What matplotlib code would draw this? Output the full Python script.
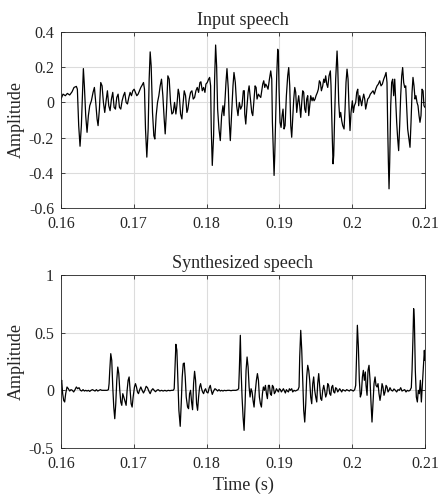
import numpy as np
import matplotlib
matplotlib.use("Agg")
import matplotlib.pyplot as plt

plt.rcParams['font.family'] = ['Liberation Serif', 'DejaVu Serif']
plt.rcParams['axes.unicode_minus'] = False

# ---------------- data (time offsets in ms from 0.16 s, amplitude) ----------------
input_ms = [0, 0.275, 0.596, 0.872, 1.193, 1.514, 1.789, 2.110, 2.248, 2.431, 2.615, 2.798, 2.936, 3.073,
            3.211, 3.394, 3.578, 3.761, 3.945, 4.174, 4.404, 4.587, 4.771, 4.954, 5.092, 5.275, 5.459, 5.642,
            5.826, 6.009, 6.193, 6.376, 6.560, 6.743, 6.927, 7.110, 7.294, 7.477, 7.661, 7.844, 8.028, 8.211,
            8.394, 8.578, 8.761, 8.945, 9.128, 9.312, 9.495, 9.679, 9.862, 10.046, 10.229, 10.413, 10.596,
            10.780, 10.963, 11.147, 11.330, 11.468, 11.606, 11.789, 11.972, 12.110, 12.248, 12.385, 12.569,
            12.752, 12.890, 13.073, 13.257, 13.440, 13.624, 13.807, 13.991, 14.174, 14.312, 14.495, 14.679,
            14.862, 15.046, 15.229, 15.413, 15.596, 15.780, 15.917, 16.101, 16.239, 16.422, 16.606, 16.743,
            16.927, 17.110, 17.294, 17.431, 17.615, 17.798, 17.982, 18.165, 18.349, 18.532, 18.716, 18.899,
            19.083, 19.220, 19.404, 19.587, 19.771, 19.908, 20.092, 20.275, 20.413, 20.550, 20.642, 20.780,
            20.963, 21.101, 21.239, 21.376, 21.514, 21.697, 21.881, 22.064, 22.248, 22.385, 22.523, 22.661,
            22.798, 22.982, 23.119, 23.257, 23.440, 23.624, 23.761, 23.945, 24.128, 24.312, 24.495, 24.679,
            24.862, 25.046, 25.183,
            25.24, 25.38, 25.52, 25.70, 25.84, 26.02, 26.20, 26.34, 26.48, 26.66, 26.80, 26.93, 27.12, 27.25,
            27.44, 27.57, 27.71, 27.85, 27.99, 28.12, 28.26, 28.44, 28.63, 28.81, 28.95, 29.04, 29.13, 29.27,
            29.36, 29.50, 29.63, 29.77, 29.86, 29.95, 30.09, 30.23, 30.37, 30.50, 30.64, 30.78, 30.96, 31.14,
            31.28, 31.42, 31.56, 31.69, 31.83, 31.97, 32.11, 32.24, 32.38, 32.52, 32.65, 32.79, 32.93, 33.07,
            33.20, 33.34, 33.48, 33.62, 33.75, 33.89, 34.03, 34.16, 34.30, 34.49, 34.62, 34.76, 34.90, 35.03,
            35.22, 35.35, 35.49, 35.63, 35.77, 35.95, 36.09, 36.22, 36.36, 36.50, 36.64, 36.82, 37.00, 37.09,
            37.18, 37.27, 37.37, 37.46, 37.59, 37.73, 37.92, 38.01, 38.15, 38.28, 38.42, 38.56, 38.70, 38.88,
            39.02, 39.15, 39.29, 39.43, 39.57, 39.70, 39.84, 40.02, 40.16, 40.30, 40.48, 40.62, 40.76, 40.89,
            41.03, 41.17, 41.30, 41.44, 41.58, 41.72, 41.85, 41.99, 42.13, 42.31, 42.49, 42.68, 42.86, 43.04,
            43.23, 43.41, 43.59, 43.78, 43.96, 44.14, 44.33, 44.51, 44.65, 44.78, 44.88, 44.97, 45.06, 45.15,
            45.29, 45.42, 45.56, 45.70, 45.84, 45.97, 46.11, 46.25, 46.38, 46.52, 46.66, 46.80, 46.93, 47.07,
            47.21, 47.35, 47.48, 47.62, 47.80, 47.94, 48.08, 48.22, 48.35, 48.49, 48.63, 48.76, 48.90, 49.04,
            49.18, 49.31, 49.45, 49.59, 49.73, 49.86, 50.00]
input_amp = [0.019, 0.047, 0.038, 0.051, 0.042, 0.060, 0.085, 0.091, 0.075, -0.132, -0.249, -0.132, 0.038, 0.192,
             0.094, -0.075, -0.170, -0.075, -0.019, 0.009, 0.057, 0.085, 0.000, -0.094, -0.132, -0.038, 0.113, 0.094,
             0.000, -0.057, 0.009, 0.066, -0.019, -0.047, 0.019, 0.057, -0.028, -0.038, 0.028, 0.047, -0.028, -0.038,
             0.009, 0.038, 0.057, 0.000, -0.009, 0.028, 0.057, 0.038, 0.066, 0.075, 0.057, 0.038, 0.047,
             0.066, 0.085, 0.098, 0.113, 0.075, -0.151, -0.311, -0.151, 0.132, 0.287, 0.208, -0.057,
             -0.189, -0.208, -0.075, 0.000, 0.038, 0.094, 0.132, 0.038, -0.094, -0.179, -0.038, 0.151,
             0.132, 0.000, -0.066, -0.057, 0.000, -0.066, -0.019, 0.075, 0.047, -0.066, -0.094, -0.019,
             0.066, 0.038, -0.057, -0.038, 0.019, 0.057, 0.066, 0.019, 0.028, 0.066, 0.085, 0.057,
             0.113, 0.117, 0.066, 0.085, 0.057, 0.104, 0.113, 0.132, 0.142, 0.094, -0.151, -0.358,
             -0.189, 0.132, 0.326, 0.208, -0.038, -0.151, -0.217, -0.075, -0.019, -0.075, 0.009, 0.113,
             0.192, 0.075, -0.113, -0.217, -0.057, 0.094, 0.170, 0.113, -0.019, -0.075, 0.000, -0.038,
             -0.019, 0.066, 0.066,
             -0.066, -0.123, -0.038, 0.057, 0.094, 0.019, -0.057, -0.075, 0.000, 0.094, 0.085, 0.019, 0.047, 0.038,
             0.028, 0.066, 0.104, 0.123, 0.085, 0.104, 0.094, 0.075, 0.132, 0.179, 0.132, -0.113, -0.226, -0.415,
             -0.302, -0.057, 0.151, 0.302, 0.283, 0.075, -0.113, -0.142, -0.075, -0.038, -0.151, -0.132, 0.038, 0.151,
             0.198, 0.094, -0.132, -0.198, -0.094, 0.019, 0.085, 0.057, -0.057, 0.000, 0.038, -0.019, -0.085, 0.000,
             0.066, 0.057, -0.038, -0.057, 0.019, 0.038, -0.075, -0.019, 0.038, 0.009, 0.028, 0.009, 0.019, 0.038,
             0.057, 0.075, 0.123, 0.113, 0.066, 0.094, 0.132, 0.113, 0.151, 0.104, 0.085, 0.151, 0.179, 0.094,
             -0.057, -0.208, -0.349, -0.302, -0.075, 0.132, 0.292, 0.208, 0.000, -0.085, -0.057, -0.104, -0.132, -0.151,
             -0.038, 0.113, 0.189, 0.132, -0.038, -0.160, -0.057, 0.009, -0.057, -0.019, 0.000, 0.057, 0.075, -0.019,
             0.038, 0.009, -0.019, 0.019, 0.047, 0.019, -0.038, -0.009, 0.019, 0.028, 0.047, 0.057, 0.066, 0.047,
             0.075, 0.094, 0.104, 0.123, 0.094, 0.104, 0.132, 0.151, 0.170, 0.113, -0.151, -0.340, -0.491, -0.340,
             -0.019, 0.113, 0.132, 0.038, 0.132, 0.019, -0.113, -0.208, -0.274, -0.132, 0.038, 0.151, 0.198, 0.113,
             0.085, 0.094, -0.019, -0.151, -0.208, -0.255, -0.113, 0.057, 0.142, 0.094, 0.019, 0.038, 0.000, -0.019,
             -0.075, -0.113, -0.075, 0.075, 0.066, -0.019, -0.028]

synth_ms = [0, 0.092, 0.229, 0.367, 0.505, 0.642, 0.826, 1.009, 1.193, 1.376, 1.560, 1.743, 1.927, 2.110, 2.294,
            2.477, 2.661, 2.844, 3.028, 3.211, 3.394, 3.578, 3.761, 3.945, 4.128, 4.312, 4.495, 4.679, 4.862,
            5.046, 5.229, 5.413, 5.596, 5.780, 5.963, 6.147, 6.330, 6.514, 6.606, 6.697, 6.835, 6.972, 7.110,
            7.248, 7.385, 7.523, 7.661, 7.798, 7.936, 8.073, 8.211, 8.349, 8.486, 8.624, 8.807, 8.945, 9.083,
            9.220, 9.358, 9.495, 9.633, 9.771, 9.908, 10.092, 10.229, 10.367, 10.505, 10.642, 10.780, 10.963,
            11.147, 11.330, 11.514, 11.697, 11.881, 12.064, 12.248, 12.431, 12.615, 12.798, 12.982, 13.165,
            13.349, 13.578, 13.807, 14.037, 14.266, 14.495, 14.725, 14.954, 15.183, 15.413, 15.550, 15.642,
            15.780, 15.917, 16.055, 16.193, 16.376, 16.514, 16.651, 16.789, 16.927, 17.064, 17.202, 17.385,
            17.523, 17.661, 17.798, 17.936, 18.073, 18.211, 18.349, 18.486, 18.624, 18.761, 18.899, 19.037,
            19.174, 19.312, 19.450, 19.587, 19.725, 19.862, 20.000, 20.183, 20.367, 20.505, 20.642, 20.780,
            20.963, 21.147, 21.330, 21.514, 21.697, 21.881, 22.064, 22.248, 22.431, 22.661, 22.890, 23.119,
            23.349, 23.578, 23.807, 24.037, 24.266, 24.404, 24.495, 24.633,
            24.74, 24.87, 25.01, 25.15, 25.29, 25.42, 25.56, 25.70, 25.84, 25.97, 26.11, 26.25, 26.38, 26.52,
            26.66, 26.84, 26.98, 27.12, 27.25, 27.39, 27.53, 27.67, 27.80, 27.94, 28.08, 28.22, 28.35, 28.49,
            28.63, 28.76, 28.90, 29.04, 29.18, 29.31, 29.45, 29.59, 29.73, 29.86, 30.00, 30.14, 30.27, 30.41,
            30.55, 30.69, 30.82, 30.96, 31.10, 31.24, 31.37, 31.51, 31.69, 31.83, 32.01, 32.20, 32.38, 32.56,
            32.70, 32.79, 32.93, 33.07, 33.20, 33.34, 33.48, 33.62, 33.75, 33.89, 34.03, 34.16, 34.30, 34.44,
            34.58, 34.71, 34.85, 34.99, 35.13, 35.26, 35.40, 35.54, 35.67, 35.81, 35.95, 36.09, 36.22, 36.36,
            36.50, 36.64, 36.77, 36.91, 37.05, 37.19, 37.32, 37.46, 37.60, 37.73, 37.87, 38.01, 38.15, 38.28,
            38.42, 38.56, 38.70, 38.88, 39.06, 39.24, 39.43, 39.61, 39.79, 39.98, 40.16, 40.34, 40.48, 40.57,
            40.71, 40.85, 40.98, 41.12, 41.26, 41.40, 41.53, 41.67, 41.81, 41.90, 42.04, 42.17, 42.31, 42.45,
            42.59, 42.72, 42.86, 43.00, 43.14, 43.27, 43.41, 43.55, 43.68, 43.82, 43.96, 44.10, 44.23, 44.37,
            44.51, 44.65, 44.78, 44.92, 45.06, 45.19, 45.38, 45.56, 45.74, 45.93, 46.11, 46.29, 46.48, 46.66,
            46.84, 47.02, 47.21, 47.39, 47.57, 47.76, 47.94, 48.12, 48.22, 48.35, 48.44, 48.54, 48.67, 48.81,
            48.95, 49.08, 49.22, 49.36, 49.50, 49.63, 49.77, 49.91, 50.00]
synth_amp = [0.058, 0.087, -0.029, -0.087, -0.101, -0.029, 0.029, 0.014, -0.006, 0.006, 0, -0.014, 0.006, 0.029, 0.014,
             0.023, 0, -0.006, 0.006, -0.006, 0, -0.006, 0, -0.009, 0, 0.006, 0, -0.006, 0.006,
             -0.006, 0, 0.006, 0, 0, 0, 0, 0, 0.006, 0.058, 0.173, 0.318, 0.260, 0.029,
             -0.145, -0.246, -0.116, 0.087, 0.202, 0.145, 0, -0.101, -0.130, -0.029, -0.058, -0.101, -0.130, 0,
             0.087, 0.116, 0, -0.116, -0.145, -0.058, 0.029, 0.058, 0.029, -0.014, -0.029, 0, 0.029,
             0, -0.023, 0, 0.035, 0.023, -0.006, -0.029, 0, 0.014, 0, -0.012, 0,
             0.006, -0.006, 0, -0.006, 0, -0.006, 0, -0.003, 0, 0, 0.014, 0.173,
             0.399, 0.347, 0.087, -0.173, -0.312, -0.116, 0.116, 0.231, 0.237, 0.116, -0.058, -0.145,
             -0.159, -0.029, 0, -0.101, -0.168, 0.058, 0.165, 0.087, -0.116, -0.173, -0.058, 0.029,
             0.058, 0.014, -0.014, -0.029, 0, 0.014, -0.014, -0.023, 0.023, 0.043, 0, -0.035,
             -0.006, 0.014, 0.006, -0.006, 0.006, -0.006, 0, -0.006, 0, -0.003, 0, 0,
             -0.003, 0, 0, 0, 0.006, 0.014, 0.173, 0.477,
             0.173, -0.058, -0.231, -0.347, -0.116, 0.173, 0.289, 0.202, 0.029, -0.058, 0.014, -0.014, -0.087, -0.145,
             -0.029, 0.087, 0.145, 0.087, -0.058, -0.116, -0.145, -0.029, 0.029, 0, 0.043, -0.029, -0.072, 0.043,
             0.043, -0.029, -0.043, 0.043, 0.029, -0.029, -0.014, 0.014, 0, -0.014, 0.014, 0.006, -0.014, 0,
             0.014, -0.006, -0.023, 0.006, -0.006, -0.014, 0.014, 0, 0.014, -0.014, 0, -0.006, 0, 0.006,
             0.029, 0.289, 0.520, 0.347, 0.087, -0.173, -0.275, -0.116, 0.116, 0.217, 0.173, 0.087, -0.058, -0.116,
             0.058, 0.116, 0, -0.058, -0.101, 0.058, 0.145, 0.029, -0.072, -0.087, 0, 0.043, 0, -0.058,
             -0.029, 0.058, 0.043, -0.029, -0.043, 0.029, 0.043, -0.014, -0.023, 0.023, 0.014, -0.014, 0, 0.014,
             0, -0.014, 0.006, 0, -0.006, 0.006, 0, -0.006, 0.006, 0, -0.006, 0.006, 0.043, 0.231,
             0.564, 0.376, 0.087, -0.058, -0.029, 0.116, 0.173, 0.087, 0.159, 0.043, -0.043, 0.173, 0.217, 0.087,
             -0.116, -0.275, -0.116, 0.058, 0.116, 0.043, 0.029, 0.058, -0.029, -0.087, -0.029, 0.058, 0.029, -0.043,
             -0.014, 0.043, 0.029, -0.014, 0, 0.023, 0, -0.006, 0.012, 0, -0.014, 0.006, 0, 0.023,
             -0.006, 0, 0.006, -0.014, 0, -0.006, 0, 0.023, 0.173, 0.462, 0.708, 0.607, 0.173, -0.058,
             -0.101, 0, -0.029, 0.087, -0.101, 0.043, 0.188, 0.347, 0.260]

t0 = 0.16
xticks = [0.16, 0.17, 0.18, 0.19, 0.2, 0.21]
xtick_labels = ['0.16', '0.17', '0.18', '0.19', '0.2', '0.21']
top_yticks = [-0.6, -0.4, -0.2, 0, 0.2, 0.4]
top_ylabels = ['-0.6', '-0.4', '-0.2', '0', '0.2', '0.4']
bot_yticks = [-0.5, 0, 0.5, 1]
bot_ylabels = ['-0.5', '0', '0.5', '1']

# ---------------- figure ----------------
fig = plt.figure(figsize=(4.38, 4.95), dpi=100)
ax1 = fig.add_axes([61/438, 1-208/495, 364/438, 176/495])
ax2 = fig.add_axes([61/438, 1-448/495, 364/438, 173/495])

TXT = '#262626'

def style(ax, yt, yl):
    ax.set_xlim(0.16, 0.21)
    ax.set_xticks(xticks)
    ax.set_xticklabels(xtick_labels)
    ax.set_yticks(yt)
    ax.set_yticklabels(yl)
    ax.set_ylim(yt[0], yt[-1])
    ax.grid(True, color='#dcdcdc', linewidth=0.8)
    ax.set_axisbelow(True)
    ax.tick_params(direction='in', top=True, right=True, length=3, width=0.6,
                   colors=TXT, labelsize=11.5, labelcolor=TXT)
    ax.tick_params(axis='y', pad=5)
    ax.tick_params(axis='x', pad=6)
    for s in ax.spines.values():
        s.set_color(TXT)
        s.set_linewidth(0.6)
    ax.set_ylabel('Amplitude', fontsize=13, color=TXT, labelpad=3)

t_in = [t0 + m / 1000 for m in input_ms]
t_sy = [t0 + m / 1000 for m in synth_ms]
ax1.plot(t_in, input_amp, color='black', linewidth=0.9)
ax2.plot(t_sy, synth_amp, color='black', linewidth=0.9)

style(ax1, top_yticks, top_ylabels)
style(ax2, bot_yticks, bot_ylabels)
ax1.set_title('Input speech', fontsize=13, color=TXT, pad=5)
ax2.set_title('Synthesized speech', fontsize=13, color=TXT, pad=5)
ax2.set_xlabel('Time (s)', fontsize=13, color=TXT, labelpad=3)

fig.savefig('out.png', dpi=100)
